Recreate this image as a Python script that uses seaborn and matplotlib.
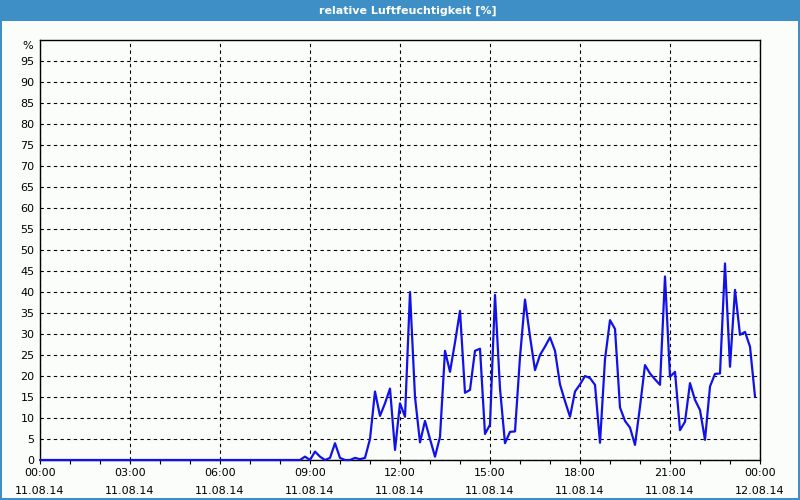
import matplotlib
matplotlib.use("Agg")
import matplotlib.pyplot as plt
import matplotlib.dates as mdates
import matplotlib.patches as mpatches
import matplotlib.transforms as mtransforms
import seaborn as sns
import pandas as pd

# ---- data ----
date = "2014-08-11"
times = ["00:00", "08:40", "08:50", "09:00", "09:10", "09:20", "09:30", "09:40", "09:50",
         "10:00", "10:10", "10:20", "10:30", "10:40", "10:50",
         "11:00", "11:10", "11:20", "11:30", "11:40", "11:50",
         "12:00", "12:10", "12:20", "12:30", "12:40", "12:50",
         "13:00", "13:10", "13:20", "13:30", "13:40", "13:50",
         "14:00", "14:10", "14:20", "14:30", "14:40", "14:50",
         "15:00", "15:10", "15:20", "15:30", "15:40", "15:50",
         "16:00", "16:10", "16:20", "16:30", "16:40", "16:50",
         "17:00", "17:10", "17:20", "17:30", "17:40", "17:50",
         "18:00", "18:10", "18:20", "18:30", "18:40", "18:50",
         "19:00", "19:10", "19:20", "19:30", "19:40", "19:50",
         "20:00", "20:10", "20:20", "20:30", "20:40", "20:50",
         "21:00", "21:10", "21:20", "21:30", "21:40", "21:50",
         "22:00", "22:10", "22:20", "22:30", "22:40", "22:50",
         "23:00", "23:10", "23:20", "23:30", "23:40", "23:50"]
humidity = [0, 0, 0.8, 0, 2, 0.8, 0, 0.5, 4,
            0.5, 0, 0, 0.5, 0.2, 0.5,
            5, 16.3, 10.5, 13.5, 17, 2.4,
            13.5, 10.3, 40, 15, 4.2, 9.3,
            5, 0.8, 5.5, 26, 21, 28,
            35.5, 16, 16.7, 26, 26.5, 6.2,
            8.4, 39.3, 17, 4, 6.7, 6.8,
            24.5, 38.2, 29.4, 21.4, 25, 27,
            29.2, 26, 18, 14, 10.3, 16.3,
            18, 20, 19.5, 17.9, 4.1, 24,
            33.3, 31.2, 12.5, 9.3, 7.7, 3.6,
            12.7, 22.6, 20.6, 19.2, 17.9, 43.7,
            19.8, 21, 7.1, 9.1, 18.3, 14.3,
            11.9, 4.8, 17.5, 20.5, 20.6, 46.8,
            22.2, 40.5, 29.8, 30.5, 27, 15.1]
y_ticks = list(range(0, 100, 5))
title = "relative Luftfeuchtigkeit [%]"
unit = "%"

df = pd.DataFrame({"time": pd.to_datetime([f"{date} {t}" for t in times]),
                   "value": humidity})

sns.set_theme(style="white")
plt.rcParams["font.family"] = ["DejaVu Sans"]

bg = "#fafdfa"
blue_frame = "#3d8fc6"

fig = plt.figure(figsize=(8, 5), dpi=100, facecolor=bg)

# window frame: title bar and border
fig.patches.append(mpatches.Rectangle((0, 1 - 21 / 500), 1, 21 / 500, transform=fig.transFigure,
                                      facecolor=blue_frame, edgecolor="none", zorder=0))
for (x0, y0, w, h) in [(0, 0, 2 / 800, 1), (1 - 2 / 800, 0, 2 / 800, 1), (0, 0, 1, 2 / 500)]:
    fig.patches.append(mpatches.Rectangle((x0, y0), w, h, transform=fig.transFigure,
                                          facecolor=blue_frame, edgecolor="none", zorder=0))
fig.text(408 / 800, 1 - 10.5 / 500, title, color="white", fontsize=8, fontweight="bold",
         ha="center", va="center")

ax = fig.add_axes([40 / 800, 1 - 460 / 500, 720 / 800, 420 / 500])
ax.set_facecolor(bg)

sns.lineplot(data=df, x="time", y="value", ax=ax, color="#1212e8", linewidth=1.6,
             estimator=None, zorder=5, clip_on=False)

start = pd.Timestamp(f"{date} 00:00")
end = start + pd.Timedelta(hours=24)
ax.set_xlim(start, end)
ax.set_ylim(0, 100)

ax.xaxis.set_major_locator(mdates.HourLocator(byhour=range(0, 24, 3)))
ax.xaxis.set_minor_locator(mdates.HourLocator())
ax.xaxis.set_major_formatter(mdates.DateFormatter("%H:%M\n%d.%m.%y"))
ax.set_yticks(y_ticks)
ax.set_yticklabels([str(v) for v in y_ticks])

ax.grid(True, which="major", color="black", linestyle=(0, (3, 3)), linewidth=0.8)
ax.set_axisbelow(True)
ax.tick_params(axis="x", which="both", direction="out", length=3, width=0.8, color="black",
               bottom=True, labelsize=8, labelcolor="black", pad=3)
ax.tick_params(axis="y", which="both", length=0, labelsize=8, labelcolor="black", pad=4)
for lbl in ax.get_xticklabels():
    lbl.set_linespacing(2.0)

for s in ax.spines.values():
    s.set_color("black")
    s.set_linewidth(1.0)

ax.set_xlabel("")
ax.set_ylabel("")

trans = mtransforms.blended_transform_factory(ax.transAxes, ax.transData)
ax.text(-0.0095, 98.5, unit, transform=trans, ha="right", va="center", fontsize=8, color="black")

fig.savefig("out.png", dpi=100, facecolor=bg)
